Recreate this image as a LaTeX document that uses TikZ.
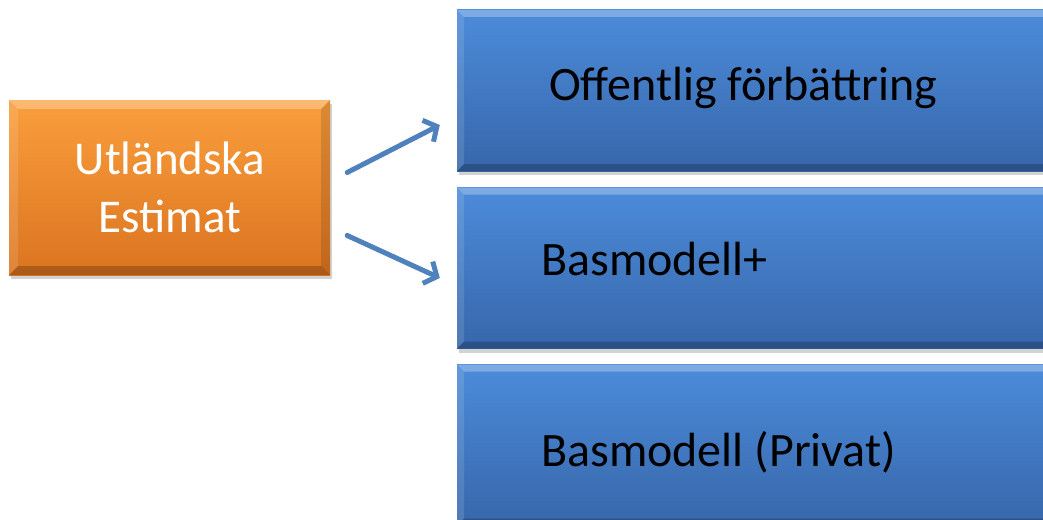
\documentclass[tikz,border=0pt]{standalone}
\usepackage{fontspec}
\setmainfont{Carlito}
\usetikzlibrary{arrows.meta,shadows,calc}
\definecolor{orTop}{HTML}{FA9E3C}
\definecolor{orBot}{HTML}{DB7420}
\definecolor{blTop}{HTML}{4C8BDA}
\definecolor{blBot}{HTML}{3767AA}
\definecolor{arrc}{HTML}{4F81BD}
\begin{document}
\begin{tikzpicture}[x=1pt,y=-1pt,
  bevel/.style={path picture={
    \coordinate (nw) at (path picture bounding box.north west);
    \coordinate (ne) at (path picture bounding box.north east);
    \coordinate (sw) at (path picture bounding box.south west);
    \coordinate (se) at (path picture bounding box.south east);
    \fill[white,opacity=0.28] (nw) -- (ne) -- ([xshift=-#1,yshift=-#1]ne) -- ([xshift=#1,yshift=-#1]nw) -- cycle;
    \fill[white,opacity=0.12] (nw) -- (sw) -- ([xshift=#1,yshift=#1]sw) -- ([xshift=#1,yshift=-#1]nw) -- cycle;
    \fill[black,opacity=0.22] (sw) -- (se) -- ([xshift=-#1,yshift=#1]se) -- ([xshift=#1,yshift=#1]sw) -- cycle;
    \fill[black,opacity=0.12] (ne) -- (se) -- ([xshift=-#1,yshift=#1]se) -- ([xshift=-#1,yshift=-#1]ne) -- cycle;
  }},
  box/.style={rectangle, inner sep=0pt, draw=none,
    drop shadow={shadow xshift=2pt, shadow yshift=-4pt, opacity=0.35}},
  obox/.style={box, top color=orTop, bottom color=orBot, bevel=9pt,
    minimum width=321pt, minimum height=175pt},
  bbox/.style={box, top color=blTop, bottom color=blBot, bevel=7pt,
    minimum width=620pt, minimum height=161pt},
  lbl/.style={font=\fontsize{48}{58}\selectfont, anchor=base west, inner sep=0pt},
  conn/.style={draw=arrc, line width=5pt, line cap=round,
    -{Straight Barb[length=10pt, width=24pt, line width=5pt]}}
]
\useasboundingbox (0,0) rectangle (1043,519);
\fill[white] (0,0) rectangle (1043,519);

\node[obox] (src) at (169.5,187.5) {};
\node[font=\fontsize{47}{58}\selectfont, text=white, align=center, inner sep=0pt, anchor=base]
  (srct) at (170,232) {Utländska\\Estimat};

\node[bbox] (b1) at (767,90.5) {};
\node[bbox] (b2) at (767,268) {};
\node[bbox] (b3) at (767,445) {};

\node[lbl] (t1) at (549,100) {Offentlig förbättring};
\node[lbl] (t2) at (541,275) {Basmodell+};
\node[lbl] (t3) at (541,466) {Basmodell (Privat)};

\coordinate (a1s) at ($(src.east)+(17,-15)$);
\coordinate (a1e) at ($(b1.west |- 0,125)+(-17,0)$);
\coordinate (a2s) at ($(src.east)+(17,48)$);
\coordinate (a2e) at ($(b2.west |- 0,278)+(-17,0)$);
\draw[conn] (a1s) -- (a1e);
\draw[conn] (a2s) -- (a2e);
\end{tikzpicture}
\end{document}
